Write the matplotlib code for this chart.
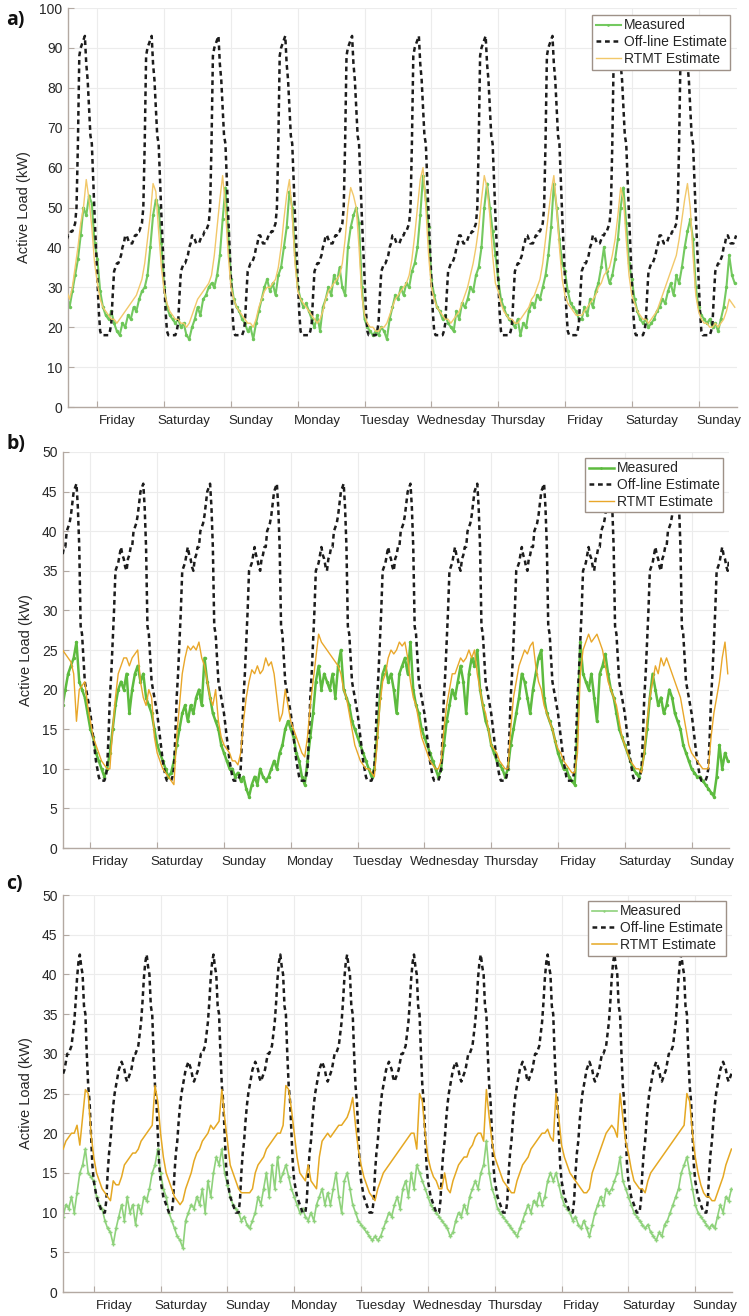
import numpy as np
import matplotlib
matplotlib.use("Agg")
import matplotlib.pyplot as plt

plt.rcParams['font.family'] = ['Liberation Sans', 'DejaVu Sans']

# ---------------------------------------------------------------------------
# Data: hourly samples from Thursday 13:00 to the second Sunday 13:00
# (hours counted from Friday 00:00).  Off-line estimate is one daily profile
# sampled every half hour, repeated for every day of the window.
# ---------------------------------------------------------------------------
hours = np.arange(-11, 230)
half_hours = np.arange(-22, 460) / 2.0

day_names = ["Friday", "Saturday", "Sunday", "Monday", "Tuesday",
             "Wednesday", "Thursday", "Friday", "Saturday", "Sunday"]

# ---- panel a --------------------------------------------------------------
a_measured = [
    28, 25, 29, 33, 37, 43, 50, 48, 53, 51, 41,
    37, 29, 25, 23, 22, 24, 21, 19, 18, 21, 20, 23, 22, 25, 24, 27, 29, 30, 33, 40, 48, 52, 50, 41,
    30, 25, 23, 22, 21, 22, 20, 21, 18, 17, 20, 22, 25, 23, 27, 28, 30, 31, 30, 33, 38, 47, 55, 44,
    32, 27, 25, 24, 22, 21, 19, 20, 17, 21, 24, 27, 30, 32, 29, 31, 28, 33, 35, 40, 45, 54, 50, 38,
    30, 27, 25, 26, 24, 22, 20, 23, 19, 25, 27, 30, 28, 33, 31, 35, 30, 28, 40, 45, 48, 50, 46, 30,
    22, 20, 19, 18, 19, 18, 20, 19, 17, 22, 25, 28, 27, 30, 28, 31, 30, 34, 36, 40, 48, 58, 52, 45,
    32, 28, 25, 24, 22, 23, 21, 20, 19, 24, 22, 26, 25, 27, 30, 29, 33, 35, 40, 50, 56, 50, 44, 38,
    32, 27, 25, 23, 22, 21, 20, 22, 18, 21, 20, 24, 26, 25, 28, 27, 30, 33, 38, 45, 56, 50, 42, 36,
    34, 29, 26, 25, 24, 22, 22, 25, 23, 27, 25, 29, 31, 35, 40, 34, 31, 33, 37, 42, 50, 55, 46, 36,
    32, 27, 24, 22, 21, 22, 20, 21, 22, 24, 25, 27, 26, 29, 31, 28, 33, 31, 35, 40, 44, 47, 42, 30,
    25, 23, 22, 21, 22, 20, 21, 19, 22, 25, 30, 38, 33, 31,
]
a_rtmt = [
    29, 27, 30, 35, 40, 46, 50, 57, 52, 45, 36,
    31, 27, 25, 24, 23, 22, 22, 21, 22, 23, 24, 25, 26, 27, 28, 30, 32, 36, 42, 48, 56, 54, 44, 35,
    29, 26, 24, 23, 22, 22, 21, 21, 20, 21, 23, 25, 27, 28, 29, 30, 31, 33, 38, 45, 52, 58, 50, 38,
    30, 27, 25, 24, 23, 22, 21, 21, 20, 22, 25, 27, 29, 30, 30, 31, 32, 35, 40, 47, 53, 57, 48, 36,
    29, 27, 26, 25, 24, 23, 22, 21, 22, 24, 27, 29, 30, 31, 32, 33, 36, 42, 50, 55, 53, 50, 40, 28,
    23, 21, 20, 20, 19, 19, 20, 20, 21, 23, 25, 27, 28, 29, 30, 31, 33, 37, 43, 50, 57, 60, 50, 38,
    30, 27, 25, 24, 23, 22, 22, 21, 22, 23, 24, 26, 28, 30, 33, 36, 40, 45, 52, 58, 55, 48, 38, 31,
    29, 26, 24, 23, 22, 22, 21, 21, 22, 23, 24, 25, 27, 28, 30, 32, 36, 42, 48, 54, 58, 50, 40, 32,
    28, 26, 25, 24, 23, 23, 23, 24, 25, 26, 27, 28, 30, 31, 33, 34, 35, 38, 42, 48, 55, 52, 42, 33,
    28, 26, 24, 23, 22, 22, 21, 22, 23, 24, 26, 28, 30, 32, 34, 36, 38, 42, 47, 52, 56, 50, 38, 28,
    24, 22, 21, 21, 20, 20, 21, 20, 21, 22, 24, 27, 26, 25,
]
a_offline_day = [
    32, 24, 19, 18, 18, 18, 18, 18, 18, 19, 21, 28,
    34, 35, 36, 36, 37, 38, 40, 41, 43, 43, 42, 41,
    41, 41, 42, 43, 43, 44, 44, 45, 46, 50, 66, 88,
    90, 91, 92, 93, 86, 82, 75, 68, 66, 57, 48, 40,
]

# ---- panel b --------------------------------------------------------------
b_measured = [
    17, 18, 20, 22, 23, 24, 26, 21, 20, 19, 17,
    15, 14, 12, 11, 10, 9, 10, 12, 15, 18, 20, 21, 20, 22, 17, 20, 22, 23, 21, 22, 19, 18, 17, 15,
    13, 12, 11, 10, 9, 9.5, 11, 13, 15, 17, 18, 16, 18, 17, 19, 20, 18, 24, 21, 19, 17, 16, 15, 13,
    12, 11, 10, 10, 9, 9.5, 8.5, 9, 7.5, 6.5, 8, 9, 8, 10, 9, 8.5, 9, 10, 11, 10, 12, 13, 15, 16,
    15, 14, 12, 11, 9, 8, 11, 14, 17, 21, 23, 20, 22, 21, 20, 22, 19, 23, 25, 20, 19, 18, 16, 15,
    14, 13, 12, 11, 10, 9, 10, 14, 19, 22, 23, 21, 22, 20, 17, 22, 23, 24, 22, 26, 20, 18, 17, 15,
    14, 13, 12, 11, 10, 9, 10, 13, 16, 18, 20, 19, 21, 23, 21, 17, 22, 24, 23, 25, 20, 18, 16, 15,
    13, 12, 11, 10.5, 10, 9, 10, 13, 15, 17, 19, 22, 21, 19, 17, 20, 22, 24, 25, 19, 17, 16, 15, 13.5,
    12, 11, 10, 10, 9, 8.5, 8, 15, 26, 22, 21, 20, 22, 19, 16, 22, 23, 24.5, 22, 20, 19, 17, 15, 14,
    13, 12, 11, 10, 9.5, 9, 10, 12, 15, 19, 22, 20, 18, 19, 17, 18, 20, 19, 17, 16, 15, 13, 12, 11,
    10, 9.5, 9, 9, 8.5, 8, 7.5, 7, 6.5, 9, 13, 10, 12, 11,
]
b_rtmt = [
    25, 25, 24.5, 24, 23.5, 22, 16, 20, 20.5, 21, 18,
    16, 14, 13, 12, 11, 10.5, 10, 10, 15, 19, 22, 23, 24, 24, 23, 24, 24.5, 25, 21, 19, 18, 20, 19, 14,
    12, 11, 10, 9.5, 9, 8.5, 8, 14, 18, 22, 24, 25.5, 25, 25.5, 25, 26, 24, 23, 21, 19, 18, 20, 16, 14,
    13, 12.5, 12, 11, 11, 10.5, 12, 16, 19, 21, 22.5, 22, 23, 22, 22.5, 24, 23, 23.5, 22, 19, 16, 17, 20, 18,
    16, 15, 14, 13, 12, 11.5, 14, 18, 21, 24, 27, 26, 25.5, 25, 24.5, 24, 23.5, 23, 22, 20, 19, 17, 15, 13,
    12, 11, 10.5, 10, 10, 9.5, 9, 13, 18, 21, 22, 24, 25, 24.5, 25, 26, 25.5, 26, 24, 21, 19, 18, 16, 14,
    13, 12, 11, 10.5, 10, 10, 11, 15, 18, 20, 22, 22, 23, 24, 23.5, 24, 25, 24, 25, 22, 20, 18, 17, 15,
    13, 12.5, 12, 11, 10.5, 10, 10, 15, 19, 21, 23, 24, 25, 24.5, 25.5, 26, 23, 21, 20, 18, 17, 16, 15, 13.5,
    12.5, 12, 11, 10.5, 10, 9.5, 9.5, 12, 22, 25, 26, 27, 26, 26.5, 27, 26, 25, 23, 21, 20, 19, 18, 16, 14,
    13, 12, 11, 10.5, 10, 10, 9.5, 12, 16, 19, 21, 23, 22, 24, 23, 24, 23, 22, 21, 20, 19, 17, 15, 13,
    12, 11.5, 11, 10.5, 10, 10, 10, 14, 17, 19, 21, 24, 26, 22,
]
b_offline_day = [
    17, 15.5, 14, 12.5, 11, 10, 9, 8.5, 8.5, 8.5, 8.5, 9,
    10, 14, 19, 22, 26, 30, 35, 35.5, 36, 37, 38, 37,
    36.5, 35.5, 35, 36.5, 37, 38, 38, 40, 40.5, 41, 42, 43.5,
    45, 45.5, 46, 43, 38, 28, 27, 24, 21, 20, 19, 18,
]

# ---- panel c --------------------------------------------------------------
c_measured = [
    9.5, 11, 10.5, 12, 10, 12.5, 15, 16, 18, 15, 14.5,
    14, 12, 11, 10.5, 9, 8, 7.5, 6, 8, 9.5, 11, 9, 12, 10, 11, 8.5, 11, 10, 12, 11.5, 13, 15, 16, 18,
    15, 13, 12, 10, 9, 8, 7, 6.5, 5.5, 9, 10, 11, 10.5, 12, 11, 13, 10, 14, 12, 15, 17, 16, 18, 15,
    13.5, 12, 11, 10.5, 10, 9, 9.5, 8.5, 8, 9, 10, 12, 11, 13, 15, 12, 16, 13, 17, 14, 15, 16, 14.5, 13,
    12, 11, 10, 10.5, 9.5, 9, 10, 9, 11, 12, 13, 11, 12.5, 11, 13, 15, 12, 10, 14, 15, 13, 11, 10, 9,
    8.5, 8, 7.5, 7, 6.5, 7, 6.5, 7, 8, 9, 10, 9.5, 11, 12, 10.5, 13, 14, 12, 15, 13, 16, 15, 14, 13,
    12, 11, 10.5, 10, 9.5, 9, 8.5, 8, 7, 7.5, 9, 10, 9.5, 11, 10, 12, 13, 14, 13, 15, 16, 19, 15, 13,
    12, 10.5, 10, 9.5, 9, 8.5, 8, 7.5, 7, 8, 9, 10, 11, 10, 11.5, 11, 12.5, 11, 12, 14, 15, 14, 15, 13.5,
    12, 11, 10.5, 10, 9, 9.5, 8.5, 8, 9, 8, 7, 8.5, 10, 11, 12, 11, 13, 12.5, 13, 14, 15, 17, 14, 13,
    12, 11, 10, 9.5, 9, 8.5, 8, 8.5, 7.5, 7, 6.5, 7.5, 7, 8.5, 9, 10, 11, 12, 13, 15, 16, 17, 15, 13,
    11, 10, 9.5, 9, 8.5, 8, 8.5, 8, 9.5, 11, 10, 12, 11.5, 13,
]
c_rtmt = [
    18, 19, 19.5, 20, 20, 21, 18.5, 22, 25.5, 25, 20,
    17, 15, 14, 13, 12.5, 12, 11.5, 14, 13.5, 13.5, 14.5, 16, 16.5, 17, 17.5, 17.5, 18, 19, 19.5, 20, 20.5, 21, 26, 24,
    20, 17, 15, 14, 13, 12, 11.5, 11, 11.5, 13, 14, 15, 16.5, 17.5, 18, 19, 19.5, 20, 21, 20.5, 21, 21.5, 25.5, 22,
    19, 16, 15, 14, 13, 12.5, 12.5, 12.5, 12.5, 13, 15, 16, 16.5, 17, 18, 18.5, 19, 19.5, 20, 20, 21, 26, 25.5, 23,
    20, 17, 15, 14.5, 14, 16, 14, 13.5, 13, 17, 19, 19.5, 20, 19.5, 20, 20.5, 21, 21, 21.5, 22, 23, 24.5, 21, 18,
    16, 14.5, 13.5, 12.5, 12, 11.5, 13, 14, 15, 15.5, 16, 16.5, 17, 17.5, 18, 18.5, 19, 19.5, 20, 20, 18, 25, 24, 20,
    17, 15.5, 14.5, 14, 13, 13, 15, 13, 12.5, 14, 15, 16, 16.5, 17, 17, 18, 18.5, 19.5, 20, 20, 19, 25.5, 22, 19,
    17, 16, 15, 14, 13.5, 13, 12.5, 12.5, 14, 15, 16, 16.5, 17, 18, 18.5, 19, 19.5, 20, 20, 20.5, 19.5, 19, 25, 22,
    18.5, 17, 16, 15, 14.5, 14, 13.5, 13, 12.5, 12.5, 13, 15, 16, 17, 18, 19, 20, 20.5, 21, 20.5, 19.5, 25, 22, 19,
    17.5, 15.5, 14, 13.5, 13, 13, 12.5, 14, 15, 15.5, 16, 16.5, 17, 17.5, 18, 18.5, 19, 19.5, 20, 20.5, 21, 25, 24, 20,
    17, 15, 13.5, 12.5, 12, 12, 11.5, 11.5, 12.5, 13.5, 14.5, 16, 17, 18,
]
c_offline_day = [
    14, 13, 12, 11.5, 11, 10.5, 10, 10, 10, 11.5, 15, 17.5,
    19, 21.5, 23.5, 25, 26, 27, 28, 28.5, 29, 28.5, 28, 27,
    26.5, 27, 27.5, 28, 29, 30, 30, 30.5, 31, 32.5, 34, 36.5,
    39.5, 41.5, 42.5, 41, 40, 36, 35, 30, 26, 24, 20, 16,
]

for series in (a_measured, a_rtmt, b_measured, b_rtmt, c_measured, c_rtmt):
    assert len(series) == len(hours)


def daily_repeat(profile):
    idx = (np.arange(-22, 460)) % 48
    return np.asarray(profile, dtype=float)[idx]


# ---------------------------------------------------------------------------
# Figure
# ---------------------------------------------------------------------------
W, H = 749, 1316
fig = plt.figure(figsize=(W / 100, H / 100), dpi=100)

AXIS_COL = '#b3a9a2'
TEXT_COL = '#262626'
GRID_COL = '#ececec'


def px_axes(left, top, right, bottom):
    return fig.add_axes([left / W, 1 - bottom / H, (right - left) / W, (bottom - top) / H])


panels = [
    dict(box=(68, 8, 737, 407), xlim=(-0.44, 9.575), ylim=(0, 100), step=10,
         meas=a_measured, rtmt=a_rtmt, off=a_offline_day,
         meas_col='#6cc657', meas_marker='.', meas_lw=1.5, meas_alpha=0.95,
         rtmt_col='#f2c86a', rtmt_lw=1.0,
         legend=(603, 15, 730, 68), letter='a)', letter_xy=(6, 20)),
    dict(box=(63, 452, 729, 848), xlim=(-0.41, 9.56), ylim=(0, 50), step=5,
         meas=b_measured, rtmt=b_rtmt, off=b_offline_day,
         meas_col='#5dbb3f', meas_marker='.', meas_lw=1.8, meas_alpha=1.0,
         rtmt_col='#e9a72a', rtmt_lw=1.0,
         legend=(596, 458, 723, 510), letter='b)', letter_xy=(6, 444)),
    dict(box=(63, 895, 732, 1292), xlim=(-0.46, 9.55), ylim=(0, 50), step=5,
         meas=c_measured, rtmt=c_rtmt, off=c_offline_day,
         meas_col='#8fd27c', meas_marker='+', meas_lw=1.2, meas_alpha=1.0,
         rtmt_col='#e5a823', rtmt_lw=1.1,
         legend=(598, 901, 726, 952), letter='c)', letter_xy=(6, 884)),
]

t_hour = hours / 24.0
t_half = half_hours / 24.0
day_ticks = np.arange(len(day_names))

for p in panels:
    left, top, right, bottom = p['box']
    ax = px_axes(left, top, right, bottom)

    ax.plot(t_hour, p['meas'], color=p['meas_col'], lw=p['meas_lw'],
            marker=p['meas_marker'], markersize=3, alpha=p['meas_alpha'],
            label='Measured', zorder=2)
    ax.plot(t_half, daily_repeat(p['off']), color='#1c1c1c', lw=1.8,
            linestyle=(0, (1.9, 1.5)), label='Off-line Estimate', zorder=3)
    ax.plot(t_hour, p['rtmt'], color=p['rtmt_col'], lw=p['rtmt_lw'],
            label='RTMT Estimate', zorder=4)

    ax.set_xlim(*p['xlim'])
    ax.set_ylim(*p['ylim'])
    ax.set_yticks(np.arange(p['ylim'][0], p['ylim'][1] + 0.1, p['step']))

    # day boundaries as major ticks, names as offset minor labels
    ax.set_xticks(day_ticks)
    ax.set_xticklabels([])
    ax.set_xticks(day_ticks + 0.30, minor=True)
    ax.set_xticklabels(day_names, minor=True)
    ax.tick_params(axis='x', which='minor', length=0, pad=6,
                   labelsize=9.5, labelcolor=TEXT_COL)
    ax.tick_params(axis='x', which='major', direction='in', length=4,
                   color=AXIS_COL, width=0.8)
    ax.tick_params(axis='y', direction='in', length=4, color=AXIS_COL,
                   width=0.8, labelsize=10, labelcolor=TEXT_COL, pad=4)

    ax.grid(True, which='major', color=GRID_COL, lw=0.8)
    ax.set_axisbelow(True)
    for side in ('top', 'right'):
        ax.spines[side].set_visible(False)
    for side in ('left', 'bottom'):
        ax.spines[side].set_color(AXIS_COL)
        ax.spines[side].set_linewidth(1.0)

    ax.set_ylabel('Active Load (kW)', fontsize=10.5, color=TEXT_COL, labelpad=6)

    lx0, ly0, lx1, ly1 = p['legend']
    anchor = ((lx1 - left) / (right - left), (bottom - ly0) / (bottom - top))
    leg = ax.legend(loc='upper right', bbox_to_anchor=anchor, borderaxespad=0,
                    fontsize=10, handlelength=1.8, handletextpad=0.2,
                    labelspacing=0.2, borderpad=0.25, fancybox=False,
                    framealpha=1, edgecolor='#9e9188', markerscale=0.6)
    leg.get_frame().set_linewidth(1.0)
    for txt in leg.get_texts():
        txt.set_color(TEXT_COL)

    fig.text(p['letter_xy'][0] / W, 1 - p['letter_xy'][1] / H, p['letter'],
             fontsize=14, fontweight='bold', color='#111111',
             family=['Open Sans', 'DejaVu Sans'], va='center', ha='left')

fig.savefig('out.png', dpi=100, facecolor='white')
